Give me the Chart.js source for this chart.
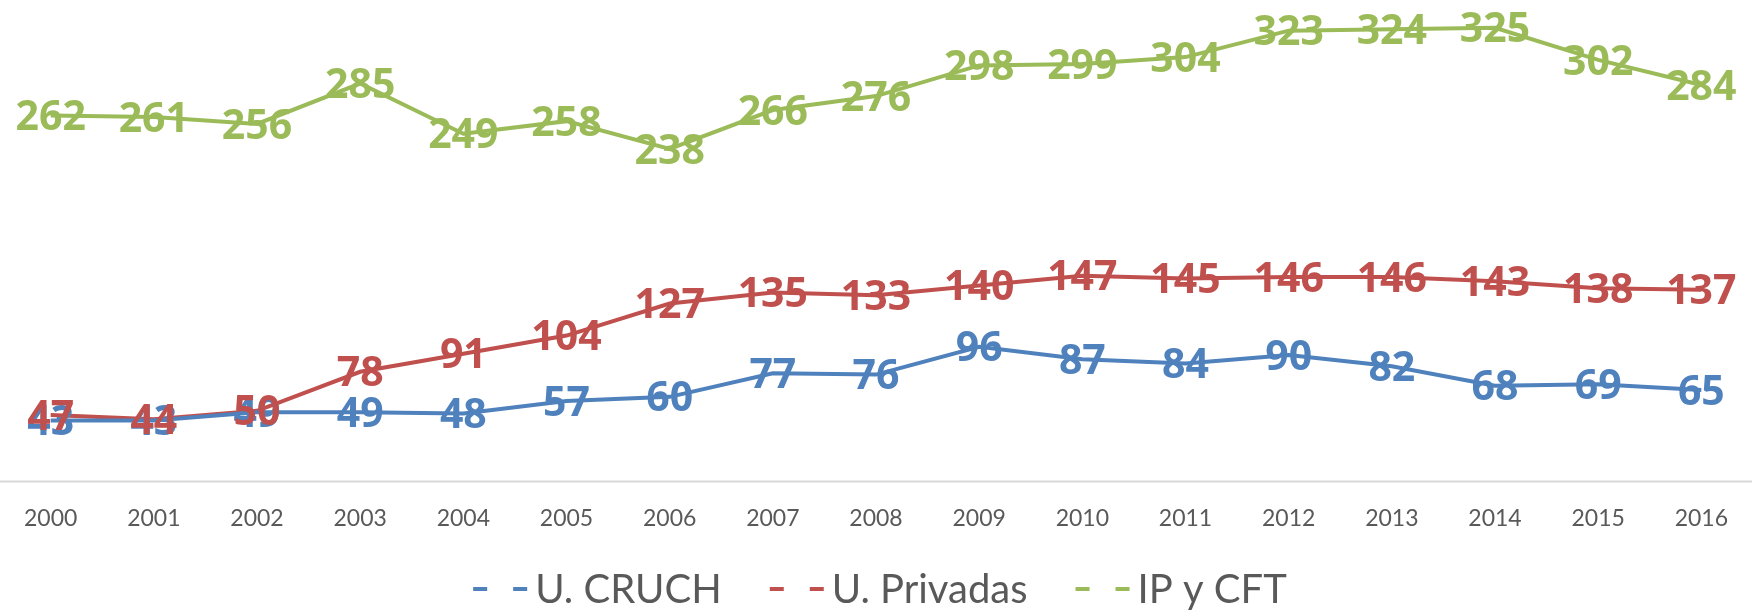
<!DOCTYPE html>
<html>
<head>
<meta charset="utf-8">
<script src="https://cdn.jsdelivr.net/npm/chart.js@4/dist/chart.umd.min.js"></script>
<style>
  html, body { margin: 0; padding: 0; background: #fff; }
  #wrap { width: 1752px; height: 610px; position: relative; }
</style>
</head>
<body>
<div id="wrap"><canvas id="chart"></canvas></div>
<script>
// 資料
const years = ['2000', '2001', '2002', '2003', '2004', '2005', '2006', '2007', '2008',
  '2009', '2010', '2011', '2012', '2013', '2014', '2015', '2016'];
const cruch = [43, 43, 49, 49, 48, 57, 60, 77, 76, 96, 87, 84, 90, 82, 68, 69, 65];
const privadas = [47, 44, 50, 78, 91, 104, 127, 135, 133, 140, 147, 145, 146, 146, 143, 138, 137];
const ipCft = [262, 261, 256, 285, 249, 258, 238, 266, 276, 298, 299, 304, 323, 324, 325, 302, 284];

const colors = { blue: '#4F81BD', red: '#C0504D', green: '#9BBB59' };
const textGray = '#595959';

// X 軸線延伸至整個寬度
const axisLinePlugin = {
  id: 'axisLine',
  beforeDatasetsDraw(chart) {
    const ctx = chart.ctx;
    const y = chart.chartArea.bottom + 1;
    ctx.save();
    ctx.strokeStyle = '#d9d9d9';
    ctx.lineWidth = 2;
    ctx.beginPath();
    ctx.moveTo(0, y);
    ctx.lineTo(chart.width, y);
    ctx.stroke();
    ctx.restore();
  }
};

// 數值標籤 (置中於資料點)
const valueLabelPlugin = {
  id: 'valueLabels',
  afterDatasetsDraw(chart) {
    const ctx = chart.ctx;
    const size = 41;
    ctx.save();
    ctx.font = `bold ${size}px "Open Sans"`;
    ctx.textAlign = 'center';
    ctx.textBaseline = 'alphabetic';
    chart.data.datasets.forEach((ds, di) => {
      const meta = chart.getDatasetMeta(di);
      ctx.fillStyle = ds.borderColor;
      meta.data.forEach((pt, i) => {
        ctx.fillText(String(ds.data[i]), pt.x, pt.y + size * 0.714 / 2);
      });
    });
    ctx.restore();
  }
};

// 圖例: 虛線樣本 + 文字, 置中於底部
const dashLegendPlugin = {
  id: 'dashLegend',
  afterDraw(chart) {
    const ctx = chart.ctx;
    const markW = 54, markGap = 8, itemGap = 48;
    const baseY = chart.height - 7;
    const lineY = chart.height - 21;
    ctx.save();
    ctx.font = '40px Lato';
    const items = chart.data.datasets.map(ds => ({
      text: ds.label, color: ds.borderColor, w: ctx.measureText(ds.label).width
    }));
    const total = items.reduce((s, it) => s + markW + markGap + it.w, 0) + itemGap * (items.length - 1);
    let x = (chart.width - total) / 2 + 4;
    items.forEach(it => {
      ctx.strokeStyle = it.color;
      ctx.lineWidth = 4;
      ctx.setLineDash([14, 26]);
      ctx.beginPath();
      ctx.moveTo(x, lineY);
      ctx.lineTo(x + markW, lineY);
      ctx.stroke();
      ctx.setLineDash([]);
      x += markW + markGap;
      ctx.fillStyle = textGray;
      ctx.textAlign = 'left';
      ctx.textBaseline = 'alphabetic';
      ctx.fillText(it.text, x, baseY);
      x += it.w + itemGap;
    });
    ctx.restore();
  }
};

function lineSet(label, data, color) {
  return {
    label,
    data,
    borderColor: color,
    backgroundColor: color,
    borderWidth: 4,
    pointRadius: 0,
    tension: 0
  };
}

new Chart(document.getElementById('chart'), {
  type: 'line',
  data: {
    labels: years,
    datasets: [
      lineSet('U. CRUCH', cruch, colors.blue),
      lineSet('U. Privadas', privadas, colors.red),
      lineSet('IP y CFT', ipCft, colors.green)
    ]
  },
  options: {
    responsive: true,
    maintainAspectRatio: false,
    animation: false,
    layout: { padding: { left: 45, right: 35, top: 0, bottom: 54 } },
    plugins: {
      tooltip: { enabled: false },
      legend: { display: false }
    },
    scales: {
      x: {
        offset: false,
        grid: { display: false, drawTicks: false },
        border: { display: false },
        ticks: { color: textGray, font: { family: 'Lato', size: 23 }, padding: 24, maxRotation: 0, autoSkip: false }
      },
      y: {
        display: false,
        min: 0,
        max: 345
      }
    }
  },
  plugins: [axisLinePlugin, valueLabelPlugin, dashLegendPlugin]
});
</script>
</body>
</html>
